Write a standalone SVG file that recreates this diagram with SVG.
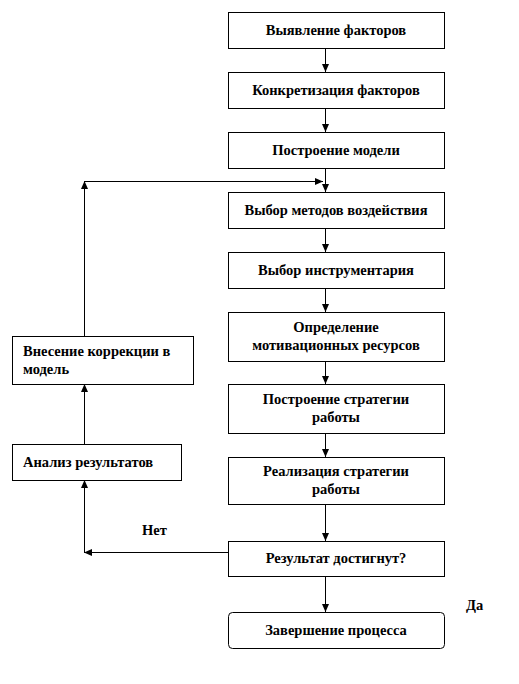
<svg xmlns="http://www.w3.org/2000/svg" width="519" height="684" viewBox="0 0 519 684">
<style>
.box{fill:#fff;stroke:#000;stroke-width:1}
.t{font-family:'Liberation Serif','Tinos','DejaVu Serif','Noto Serif',serif;font-weight:700;font-size:14.5px;fill:#000}
.c{text-anchor:middle}
.ln{fill:none;stroke:#000;stroke-width:1}
</style>
<defs>
<marker id="ah" markerUnits="userSpaceOnUse" markerWidth="9" markerHeight="8" refX="8" refY="3.5" orient="auto">
<path d="M0,0 L8,3.5 L0,7 z" fill="#000"/>
</marker>
</defs>
<rect width="519" height="684" fill="#fff"/>
<g id="n1"><rect class="box" x="228.5" y="12.5" width="216" height="36"/><text class="t c" x="336" y="35">Выявление факторов</text></g>
<g id="n2"><rect class="box" x="228.5" y="72.5" width="216" height="36"/><text class="t c" x="336" y="95">Конкретизация факторов</text></g>
<g id="n3"><rect class="box" x="228.5" y="132.5" width="216" height="36"/><text class="t c" x="336" y="155">Построение модели</text></g>
<g id="n4"><rect class="box" x="228.5" y="192.5" width="216" height="36"/><text class="t c" x="336" y="215">Выбор методов воздействия</text></g>
<g id="n5"><rect class="box" x="228.5" y="252.5" width="216" height="36"/><text class="t c" x="336" y="275">Выбор инструментария</text></g>
<g id="n6"><rect class="box" x="228.5" y="312.5" width="216" height="49"/><text class="t c" x="336" y="332">Определение</text><text class="t c" x="336" y="350">мотивационных ресурсов</text></g>
<g id="n7"><rect class="box" x="228.5" y="384.5" width="216" height="49"/><text class="t c" x="336" y="404">Построение стратегии</text><text class="t c" x="336" y="422">работы</text></g>
<g id="n8"><rect class="box" x="228.5" y="457.5" width="216" height="47"/><text class="t c" x="336" y="476">Реализация стратегии</text><text class="t c" x="336" y="494">работы</text></g>
<g id="n9"><rect class="box" x="228.5" y="541.5" width="216" height="35"/><text class="t c" x="336" y="563">Результат достигнут?</text></g>
<g id="n10"><rect class="box" x="228.5" y="612.5" width="216" height="36" rx="4"/><text class="t c" x="336" y="635">Завершение процесса</text></g>
<g id="n11"><rect class="box" x="12.5" y="336.5" width="181" height="48"/><text class="t" x="23" y="356">Внесение коррекции в</text><text class="t" x="23" y="374">модель</text></g>
<g id="n12"><rect class="box" x="12.5" y="444.5" width="169" height="36"/><text class="t" x="23" y="467">Анализ результатов</text></g>
<g id="lbl"><text class="t" x="142" y="535">Нет</text><text class="t" x="466" y="610">Да</text></g>
<g id="connectors">
<path class="ln" d="M325.5,48 V72" marker-end="url(#ah)"/>
<path class="ln" d="M325.5,108 V132" marker-end="url(#ah)"/>
<path class="ln" d="M325.5,168 V192" marker-end="url(#ah)"/>
<path class="ln" d="M325.5,228 V252" marker-end="url(#ah)"/>
<path class="ln" d="M325.5,288 V312" marker-end="url(#ah)"/>
<path class="ln" d="M325.5,361 V384" marker-end="url(#ah)"/>
<path class="ln" d="M325.5,433 V457" marker-end="url(#ah)"/>
<path class="ln" d="M325.5,504 V541" marker-end="url(#ah)"/>
<path class="ln" d="M325.5,577 V612" marker-end="url(#ah)"/>
<path class="ln" d="M84.5,336 V181" marker-end="url(#ah)"/>
<path class="ln" d="M84,181.5 H323" marker-end="url(#ah)"/>
<path class="ln" d="M84.5,444 V384" marker-end="url(#ah)"/>
<path class="ln" d="M228,552.5 H84" marker-end="url(#ah)"/>
<path class="ln" d="M84.5,552 V480" marker-end="url(#ah)"/>
</g>
</svg>
